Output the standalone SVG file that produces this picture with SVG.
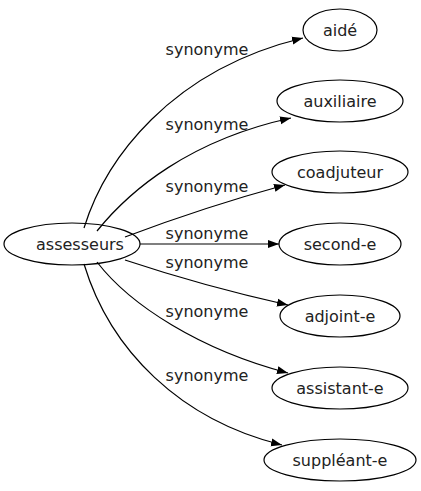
<svg xmlns="http://www.w3.org/2000/svg" width="421" height="491" viewBox="0 0 421 491">
<style>
  .n ellipse { fill: none; stroke: #000; stroke-width: 1.2; }
  text { font-family: "DejaVu Sans", sans-serif; font-size: 16px; fill: #222; text-anchor: middle; }
  .e path { fill: none; stroke: #000; stroke-width: 1.2; }
</style>
<defs>
  <marker id="ah" viewBox="0 0 11 11" refX="11" refY="5.5" markerWidth="11" markerHeight="11" markerUnits="userSpaceOnUse" orient="auto">
    <path d="M0,1.5 L11,5.5 L0,9.5 Z" fill="#000"/>
  </marker>
</defs>
<rect width="421" height="491" fill="#fff"/>
<g id="connectors" class="e">
  <path d="M84,228 C105,160 170,70 303,38" marker-end="url(#ah)"/>
  <path d="M97,231 C130,190 190,140 291,118" marker-end="url(#ah)"/>
  <path d="M125,237 C170,220 230,200 285,185" marker-end="url(#ah)"/>
  <path d="M140,244 L279,244" marker-end="url(#ah)"/>
  <path d="M125,260 C170,275 230,292 288,305" marker-end="url(#ah)"/>
  <path d="M97,262 C130,305 200,350 288,373" marker-end="url(#ah)"/>
  <path d="M84,264 C110,350 180,420 282,445" marker-end="url(#ah)"/>
  <text x="207" y="55">synonyme</text>
  <text x="207" y="130">synonyme</text>
  <text x="207" y="192">synonyme</text>
  <text x="207" y="239">synonyme</text>
  <text x="207" y="268">synonyme</text>
  <text x="207" y="317">synonyme</text>
  <text x="207" y="381">synonyme</text>
</g>
<g id="assesseurs" class="n"><ellipse cx="72" cy="244" rx="68" ry="21"/><text x="80" y="250">assesseurs</text></g>
<g id="aide" class="n"><ellipse cx="340" cy="30" rx="37" ry="21"/><text x="340" y="36">aidé</text></g>
<g id="auxiliaire" class="n"><ellipse cx="340" cy="101" rx="63" ry="21"/><text x="340" y="107">auxiliaire</text></g>
<g id="coadjuteur" class="n"><ellipse cx="340" cy="172" rx="68" ry="21"/><text x="340" y="178">coadjuteur</text></g>
<g id="second-e" class="n"><ellipse cx="340" cy="244" rx="61" ry="21"/><text x="340" y="250">second-e</text></g>
<g id="adjoint-e" class="n"><ellipse cx="340" cy="316" rx="60" ry="21"/><text x="340" y="322">adjoint-e</text></g>
<g id="assistant-e" class="n"><ellipse cx="340" cy="388" rx="68" ry="21"/><text x="340" y="394">assistant-e</text></g>
<g id="suppleant-e" class="n"><ellipse cx="340" cy="460" rx="76" ry="21"/><text x="340" y="466">suppléant-e</text></g>
</svg>
